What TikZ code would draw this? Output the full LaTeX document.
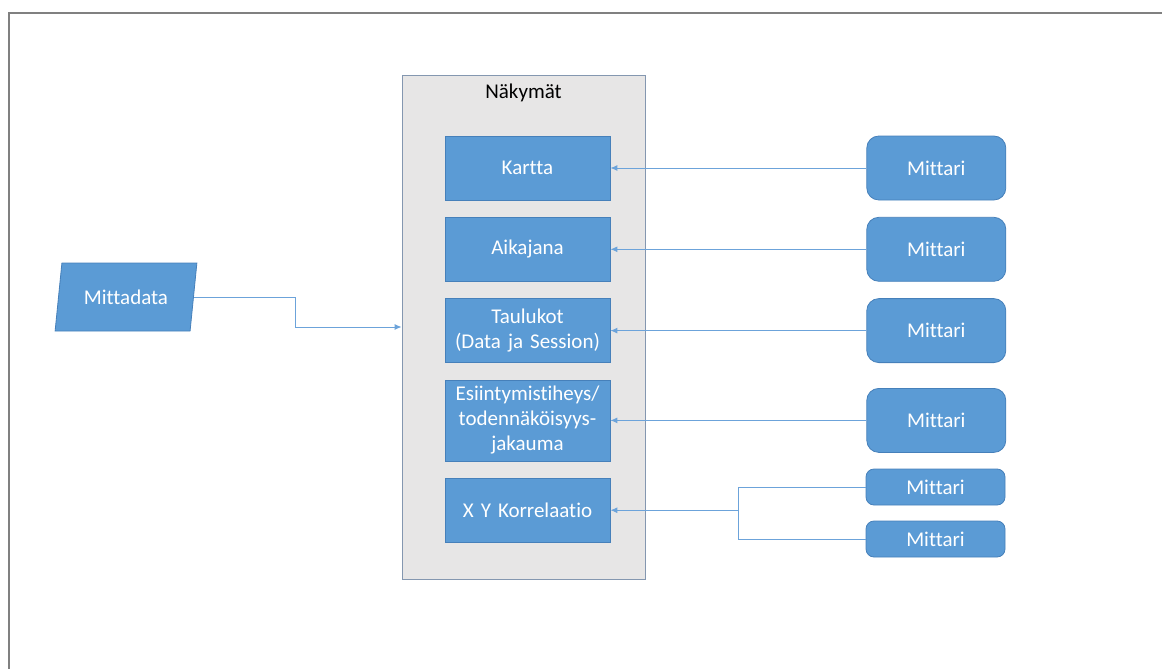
\documentclass[tikz,border=0pt]{standalone}
\usepackage{fontspec}
\setmainfont{Carlito}[Ligatures=NoCommon]
\usepackage{xcolor}
\usetikzlibrary{shapes.geometric, arrows.meta, positioning}

\definecolor{boxblue}{RGB}{91,155,213}
\definecolor{boxedge}{RGB}{70,128,186}
\definecolor{linkblue}{RGB}{108,163,218}
\definecolor{panelgray}{RGB}{231,230,230}
\definecolor{paneledge}{RGB}{132,151,176}
\definecolor{framegray}{RGB}{128,128,128}

\tikzset{
    viewbox/.style={draw=boxedge, fill=boxblue, text=white, minimum width=82.5pt, minimum height=32pt, inner sep=1pt, text width=80pt, align=center},
    meterbox/.style={draw=boxedge, fill=boxblue, text=white, rounded corners=6pt, minimum width=69.5pt, minimum height=32pt, inner sep=1pt},
    link/.style={draw=linkblue, line width=0.5pt},
    arrowlink/.style={link, -{Latex[length=3.5pt, width=3pt]}}
}

\begin{document}
\begin{tikzpicture}[x=0.5pt, y=-0.5pt, font=\fontsize{10.5}{12.5}\selectfont]
        \useasboundingbox (0,0) rectangle (1162,669);

        % Page frame
        \draw[framegray, line width=1pt] (9,669) -- (9,13) -- (1162,13);

        % Views panel
        \node[draw=paneledge, fill=panelgray, minimum width=121.5pt, minimum height=252pt, inner sep=0pt] (nakymat) at (523.5,327) {};
        \node at ([yshift=-9pt]nakymat.north) (otsikko) {Näkymät};

        % Views
        \node[viewbox] at (527.5,168) (kartta) {Kartta};
        \node[viewbox, below=8.25pt of kartta] (aikajana) {Aikajana};
        \node[viewbox, below=8.25pt of aikajana] (taulukot) {Taulukot\\(Data ja Session)};
        \node[viewbox, below=8.25pt of taulukot, minimum height=40.5pt] (jakauma) {Esiintymistiheys/\\todennäköisyys-\\jakauma};
        \node[viewbox, below=8.25pt of jakauma] (korrelaatio) {X Y Korrelaatio};

        % Meters
        \node[meterbox, right=128pt of kartta] (mittari1) {Mittari};
        \node[meterbox, right=128pt of aikajana] (mittari2) {Mittari};
        \node[meterbox, right=128pt of taulukot] (mittari3) {Mittari};
        \node[meterbox, right=128pt of jakauma] (mittari4) {Mittari};
        \node[meterbox, minimum height=18pt, rounded corners=4pt] at (935.5,487) (mittari5) {Mittari};
        \node[meterbox, minimum height=18pt, rounded corners=4pt] at (935.5,539) (mittari6) {Mittari};

        % Measurement data
        \node[trapezium, trapezium left angle=76, trapezium right angle=104, trapezium stretches=true, draw=boxedge, fill=boxblue, text=white, minimum width=71pt, minimum height=34pt, inner sep=1pt] at (126,297) (mittadata) {Mittadata};

        % Connections
        \draw[arrowlink] (mittadata.east) -- ++(102,0) |- (nakymat.west);
        \draw[arrowlink] (mittari1) -- (kartta);
        \draw[arrowlink] (mittari2) -- (aikajana);
        \draw[arrowlink] (mittari3) -- (taulukot);
        \draw[arrowlink] (mittari4) -- (jakauma);
        \coordinate (liitos) at ([xshift=64pt]korrelaatio.east);
        \draw[arrowlink] (mittari5.west) -| (liitos) -- (korrelaatio.east);
        \draw[link] (mittari6.west) -| (liitos);
    \end{tikzpicture}
\end{document}
